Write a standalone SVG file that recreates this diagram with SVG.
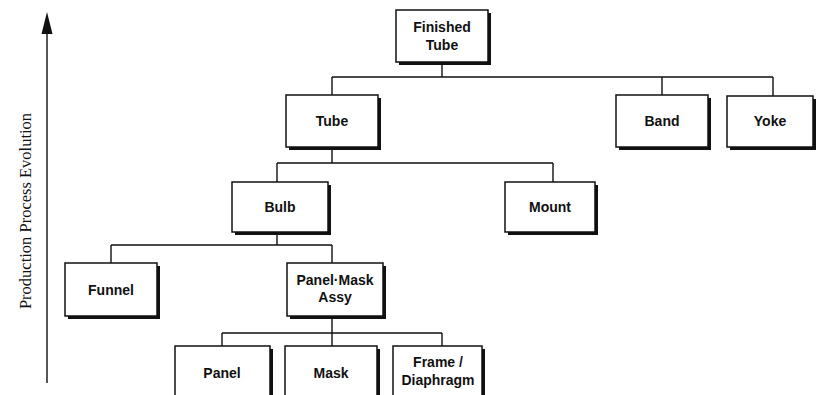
<svg xmlns="http://www.w3.org/2000/svg" width="816" height="395" viewBox="0 0 816 395">
<style>
.box{fill:#fff;stroke:#111;stroke-width:1.5}
.sh{fill:#111}
.lbl{font-family:"Liberation Sans",Arial,sans-serif;font-weight:bold;font-size:14px;fill:#111;text-anchor:middle}
.conn{fill:none;stroke:#111;stroke-width:1.4}
.axis{font-family:"Liberation Serif","Times New Roman",serif;font-size:16.5px;fill:#111;text-anchor:middle}
</style>
<rect width="816" height="395" fill="#fff"/>
<g id="axis">
<line x1="47" y1="383" x2="47" y2="34" stroke="#111" stroke-width="1.4"/>
<path d="M41.5,34 L47,12 L52.5,34 Z" fill="#111"/>
<text class="axis" transform="translate(31,211) rotate(-90)">Production Process Evolution</text>
</g>
<g id="connectors">
<path class="conn" d="M442,62 V77 M332,77 H773 M332,77 V95 M662,77 V95 M773,77 V96"/>
<path class="conn" d="M332,147 V163 M277,163 H553 M277,163 V182 M553,163 V182"/>
<path class="conn" d="M277,232 V245 M111,245 H332 M111,245 V263 M332,245 V263"/>
<path class="conn" d="M332,316 V333 M222,333 H442 M222,333 V346 M332,333 V346 M442,333 V346"/>
</g>
<g id="finished-tube">
<rect class="sh" x="399" y="13" width="92" height="52"/>
<rect class="box" x="396" y="10" width="92" height="52"/>
<text class="lbl" x="442" y="32">Finished</text>
<text class="lbl" x="442" y="50">Tube</text>
</g>
<g id="tube">
<rect class="sh" x="289" y="98" width="92" height="52"/>
<rect class="box" x="286" y="95" width="92" height="52"/>
<text class="lbl" x="332" y="126">Tube</text>
</g>
<g id="band">
<rect class="sh" x="619" y="98" width="92" height="52"/>
<rect class="box" x="616" y="95" width="92" height="52"/>
<text class="lbl" x="662" y="126">Band</text>
</g>
<g id="yoke">
<rect class="sh" x="730" y="99" width="86" height="51"/>
<rect class="box" x="727" y="96" width="86" height="51"/>
<text class="lbl" x="770" y="126">Yoke</text>
</g>
<g id="bulb">
<rect class="sh" x="235" y="185" width="96" height="50"/>
<rect class="box" x="232" y="182" width="96" height="50"/>
<text class="lbl" x="280" y="212">Bulb</text>
</g>
<g id="mount">
<rect class="sh" x="508" y="185" width="90" height="50"/>
<rect class="box" x="505" y="182" width="90" height="50"/>
<text class="lbl" x="550" y="212">Mount</text>
</g>
<g id="funnel">
<rect class="sh" x="68" y="266" width="92" height="53"/>
<rect class="box" x="65" y="263" width="92" height="53"/>
<text class="lbl" x="111" y="295">Funnel</text>
</g>
<g id="panel-mask-assy">
<rect class="sh" x="290" y="266" width="96" height="53"/>
<rect class="box" x="287" y="263" width="96" height="53"/>
<text class="lbl" x="335" y="285">Panel·Mask</text>
<text class="lbl" x="335" y="302">Assy</text>
</g>
<g id="panel">
<rect class="sh" x="178" y="349" width="95" height="52"/>
<rect class="box" x="175" y="346" width="95" height="52"/>
<text class="lbl" x="222" y="378">Panel</text>
</g>
<g id="mask">
<rect class="sh" x="288" y="349" width="92" height="52"/>
<rect class="box" x="285" y="346" width="92" height="52"/>
<text class="lbl" x="331" y="378">Mask</text>
</g>
<g id="frame-diaphragm">
<rect class="sh" x="396" y="349" width="89" height="52"/>
<rect class="box" x="393" y="346" width="89" height="52"/>
<text class="lbl" x="438" y="367">Frame /</text>
<text class="lbl" x="438" y="385">Diaphragm</text>
</g>
</svg>
